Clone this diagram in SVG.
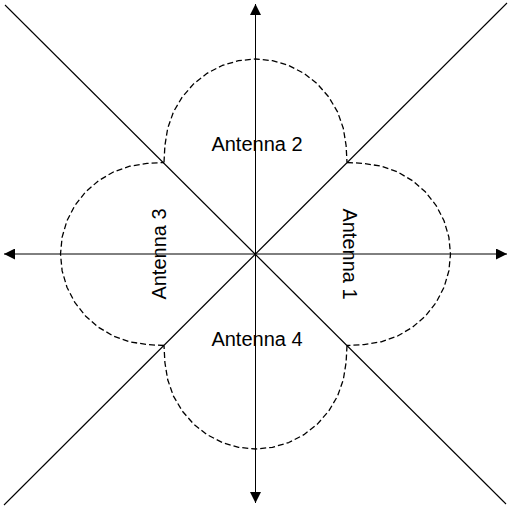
<svg xmlns="http://www.w3.org/2000/svg" width="508" height="507" viewBox="0 0 508 507">
<style>
.axis{stroke:#000;stroke-width:1;fill:none}
.diag{stroke:#000;stroke-width:1.1;fill:none}
.lobe{stroke:#000;stroke-width:1.3;fill:none;stroke-dasharray:6,3;stroke-linejoin:round}
.lbl{font-family:"Liberation Sans",Arial,sans-serif;font-size:20px;fill:#000;text-anchor:middle}
</style>
<defs>
<marker id="arr" markerWidth="11" markerHeight="11" refX="11" refY="5.5" orient="auto" markerUnits="userSpaceOnUse">
<path d="M0,0 L11,5.5 L0,11 Z" fill="#000"/>
</marker>
<path id="lobeShape" d="M-91.5,-91.5 L-90.6,-108.5 L-87.8,-125.73 L-82.05,-142.11 L-73.24,-157.05 L-61.9,-170.07 L-48.41,-180.69 L-33.25,-188.54 L-16.92,-193.37 L0,-195 L16.92,-193.37 L33.25,-188.54 L48.41,-180.69 L61.9,-170.07 L73.24,-157.05 L82.05,-142.11 L87.8,-125.73 L90.6,-108.5 L91.5,-91.5"/>
</defs>
<g id="connectors">
<line class="diag" x1="5" y1="5" x2="506" y2="504"/>
<line class="diag" x1="507" y1="3" x2="4" y2="505"/>
<line class="axis" x1="255.5" y1="254" x2="255.5" y2="4" marker-end="url(#arr)"/>
<line class="axis" x1="255.5" y1="254" x2="255.5" y2="503" marker-end="url(#arr)"/>
<line class="axis" x1="255.5" y1="254" x2="4" y2="254" marker-end="url(#arr)"/>
<line class="axis" x1="255.5" y1="254" x2="507" y2="254" marker-end="url(#arr)"/>
</g>
<g id="antenna1">
<use href="#lobeShape" class="lobe" transform="translate(255.5,254) rotate(90)"/>
<text class="lbl" transform="translate(343,254) rotate(90)">Antenna 1</text>
</g>
<g id="antenna2">
<use href="#lobeShape" class="lobe" transform="translate(255.5,254)"/>
<text class="lbl" x="257" y="151">Antenna 2</text>
</g>
<g id="antenna3">
<use href="#lobeShape" class="lobe" transform="translate(255.5,254) rotate(-90)"/>
<text class="lbl" transform="translate(166,254) rotate(-90)">Antenna 3</text>
</g>
<g id="antenna4">
<use href="#lobeShape" class="lobe" transform="translate(255.5,254) rotate(180)"/>
<text class="lbl" x="257" y="346">Antenna 4</text>
</g>
</svg>
